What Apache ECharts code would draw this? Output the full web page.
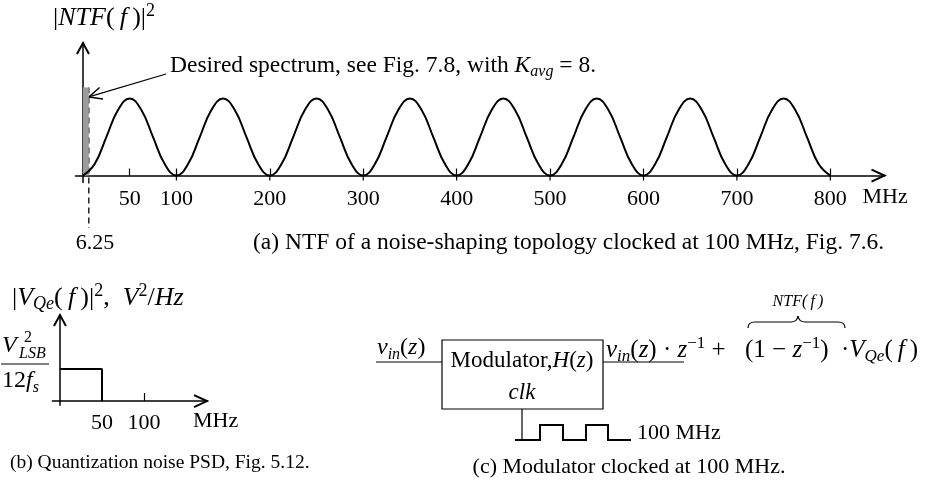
<!DOCTYPE html>
<html><head><meta charset="utf-8">
<script src="https://cdn.jsdelivr.net/npm/echarts@6/dist/echarts.min.js"></script>
<style>html,body{margin:0;padding:0;background:#fff}#c{width:940px;height:483px}</style>
</head><body><div id="c"></div>
<script>
// ---- data ----
const ntfFreqMHz = [0,12.5,25,37.5,50,62.5,75,87.5,100,112.5,125,137.5,150,162.5,175,187.5,200,
  212.5,225,237.5,250,262.5,275,287.5,300,312.5,325,337.5,350,362.5,375,387.5,400,
  412.5,425,437.5,450,462.5,475,487.5,500,512.5,525,537.5,550,562.5,575,587.5,600,
  612.5,625,637.5,650,662.5,675,687.5,700,712.5,725,737.5,750,762.5,775,787.5,800];
const ntfPower = [0,0.15,0.5,0.85,1,0.85,0.5,0.15,0,0.15,0.5,0.85,1,0.85,0.5,0.15,0,
  0.15,0.5,0.85,1,0.85,0.5,0.15,0,0.15,0.5,0.85,1,0.85,0.5,0.15,0,
  0.15,0.5,0.85,1,0.85,0.5,0.15,0,0.15,0.5,0.85,1,0.85,0.5,0.15,0,
  0.15,0.5,0.85,1,0.85,0.5,0.15,0,0.15,0.5,0.85,1,0.85,0.5,0.15,0];
const ntfTickValues = [50,100,200,300,400,500,600,700,800];
const ntfCrossTicks = [100,200,300,400,500,600,700,800];
const desiredBandMHz = 6.25;
const desiredBandHeight = 1.143;
const psdFreqMHz = [0, 50, 50];
const psdLevel = [1, 1, 0];
const psdTickValues = [50, 100];
const psdTickMarks = [100];

const F = '"Liberation Serif", "Times New Roman", serif';
const chart = echarts.init(document.getElementById('c'));
const black = '#000';
const zip = (a, b) => a.map((v, i) => [v, b[i]]);

chart.setOption({
  animation: false,
  backgroundColor: '#fff',
  grid: [
    {left: 75.5, width: 809, top: 43, height: 139.5},
    {left: 52.4, width: 154.6, top: 315, height: 90.2}
  ],
  xAxis: [
    {gridIndex: 0, type: 'value', min: -8, max: 858,
     axisLine: {show: true, onZero: true, lineStyle: {color: black, width: 1.5}},
     axisTick: {show: true, inside: true, length: 7, customValues: ntfTickValues, lineStyle: {color: black, width: 1.2}},
     axisLabel: {show: true, customValues: ntfTickValues, color: black, fontFamily: F, fontSize: 22, margin: 6},
     splitLine: {show: false}},
    {gridIndex: 1, type: 'value', min: -9, max: 175,
     axisLine: {show: true, onZero: true, lineStyle: {color: black, width: 1.5}},
     axisTick: {show: true, inside: true, length: 8, customValues: psdTickMarks, lineStyle: {color: black, width: 1.2}},
     axisLabel: {show: true, customValues: psdTickValues, color: black, fontFamily: F, fontSize: 22, margin: 7},
     splitLine: {show: false}}
  ],
  yAxis: [
    {gridIndex: 0, type: 'value', min: -0.09, max: 1.72,
     axisLine: {show: true, onZero: true, lineStyle: {color: black, width: 1.5}},
     axisTick: {show: false}, axisLabel: {show: false}, splitLine: {show: false}},
    {gridIndex: 1, type: 'value', min: -0.13, max: 2.69,
     axisLine: {show: true, onZero: true, lineStyle: {color: black, width: 1.5}},
     axisTick: {show: false}, axisLabel: {show: false}, splitLine: {show: false}}
  ],
  series: [
    {type: 'line', xAxisIndex: 0, yAxisIndex: 0, data: zip(ntfFreqMHz, ntfPower),
     smooth: 0.45, showSymbol: false, symbol: 'none', lineStyle: {color: black, width: 2},
     markArea: {silent: true, itemStyle: {color: '#9c9c9c'},
       data: [[{xAxis: 0, yAxis: 0}, {xAxis: desiredBandMHz, yAxis: desiredBandHeight}]]},
     z: 3},
    {type: 'line', xAxisIndex: 1, yAxisIndex: 1, data: zip(psdFreqMHz, psdLevel),
     showSymbol: false, symbol: 'none', lineStyle: {color: black, width: 2}}
  ]
});

// ---- annotations positioned through the chart's scales ----
const pA = v => chart.convertToPixel({xAxisIndex: 0, yAxisIndex: 0}, v);
const pB = v => chart.convertToPixel({xAxisIndex: 1, yAxisIndex: 1}, v);
const txt = (x, y, text, size, extra) => ({
  type: 'text', x, y, silent: true,
  style: Object.assign({text, fill: black, fontFamily: F, fontSize: size,
    verticalAlign: 'middle', align: 'left'}, extra || {})
});
const rich = (size) => {
  const s = Math.round(size * 0.68);
  return {
    i: {fontStyle: 'italic', fontSize: size, fontFamily: F, fill: black, lineHeight: size * 1.2},
    n: {fontSize: size, fontFamily: F, fill: black, lineHeight: size * 1.2},
    sup: {fontSize: s, fontFamily: F, fill: black, verticalAlign: 'top', lineHeight: s},
    sub: {fontSize: s, fontFamily: F, fontStyle: 'italic', fill: black, verticalAlign: 'bottom', lineHeight: s}
  };
};
const rtxt = (x, y, text, size, extra) => ({
  type: 'text', x, y, silent: true,
  style: Object.assign({text, rich: rich(size), fill: black, fontFamily: F, fontSize: size,
    verticalAlign: 'middle', align: 'left', lineHeight: size * 1.2}, extra || {})
});
const line = (x1, y1, x2, y2, w, dash) => ({type: 'line', silent: true,
  shape: {x1, y1, x2, y2}, style: {stroke: black, lineWidth: w || 1.5, lineDash: dash || null}});
const poly = (pts, w) => ({type: 'polyline', silent: true, shape: {points: pts},
  style: {stroke: black, lineWidth: w || 2, fill: null}});
const curve = (x1, y1, cx, cy, x2, y2) => ({type: 'bezierCurve', silent: true,
  shape: {x1, y1, x2, y2, cpx1: cx, cpy1: cy}, style: {stroke: black, lineWidth: 1.2, fill: null}});
const upArrow = (x, y) => poly([[x - 6, y + 11], [x, y], [x + 6, y + 11]], 2);
const rightArrow = (x, y) => poly([[x - 13, y - 6], [x, y], [x - 13, y + 6]], 2);

const aTop = pA([0, 1.72]);
const aEnd = pA([858, 0]);
const bandTop = pA([desiredBandMHz, desiredBandHeight]);
const tip = pA([desiredBandMHz, 1.02]);
const bTop = pB([0, 2.69]);
const bEnd = pB([175, 0]);

const s = [166, 74];
const dx = tip[0] - s[0], dy = tip[1] - s[1], L = Math.hypot(dx, dy);
const ux = dx / L, uy = dy / L;
const head = [[tip[0] - ux * 13 - uy * 6, tip[1] - uy * 13 + ux * 6], tip,
              [tip[0] - ux * 13 + uy * 6, tip[1] - uy * 13 - ux * 6]];

const g = [
  upArrow(aTop[0], aTop[1]),
  rightArrow(aEnd[0], aEnd[1]),
  line(bandTop[0], bandTop[1], bandTop[0], 228, 1.3, [6, 4]),
  line(s[0], s[1], tip[0], tip[1], 1.3),
  poly(head, 1.5)
];
// ticks that cross the axis (below part)
ntfCrossTicks.forEach(v => { const p = pA([v, 0]); g.push(line(p[0], p[1], p[0], p[1] + 5, 1.2)); });

g.push(
  rtxt(53, 18, '|{i|NTF}(\u2009{i|f}\u2009)|{sup|2}', 26),
  rtxt(170, 66, 'Desired spectrum, see Fig. 7.8, with {i|K}{sub|avg} = 8.', 23.5),
  txt(aEnd[0] - 22, 197, 'MHz', 22),
  txt(95, 243, '6.25', 22, {align: 'center'}),
  txt(253, 243, '(a) NTF of a noise-shaping topology clocked at 100 MHz, Fig. 7.6.', 23.5),
  // part b
  upArrow(bTop[0], bTop[1]),
  rightArrow(bEnd[0], bEnd[1]),
  rtxt(12, 298, '|{i|V}{sub|Qe}(\u2009{i|f}\u2009)|{sup|2},  {i|V}{sup|2}/{i|Hz}', 26),
  txt(2, 346, 'V', 24, {fontStyle: 'italic'}),
  txt(24, 338, '2', 16),
  txt(19, 354, 'LSB', 16, {fontStyle: 'italic'}),
  line(1, 364, 49, 364, 1.2),
  rtxt(2, 381, '12{i|f}{sub|s}', 24),
  txt(193, 421, 'MHz', 22),
  txt(10, 463, '(b) Quantization noise PSD, Fig. 5.12.', 19.5),
  // part c
  rtxt(377, 348, '{i|v}{sub|in}({i|z})', 24),
  line(376, 362, 442, 362, 1.2),
  {type: 'rect', silent: true, shape: {x: 442, y: 340, width: 161, height: 69}, style: {fill: null, stroke: black, lineWidth: 1.2}},
  rtxt(522, 361, 'Modulator,{i|H}({i|z})', 23, {align: 'center'}),
  txt(522, 393, 'clk', 23, {fontStyle: 'italic', align: 'center'}),
  line(603, 362, 684, 362, 1.2),
  rtxt(606, 350, '{i|v}{sub|in}({i|z}) \u00b7 {i|z}{sup|\u22121} +', 25),
  rtxt(745, 350, '(1 \u2212 {i|z}{sup|\u22121})', 25),
  rtxt(841, 350, '\u00b7{i|V}{sub|Qe}(\u2009{i|f}\u2009)', 25),
  txt(798, 302, 'NTF(\u2009f\u2009)', 16, {fontStyle: 'italic', align: 'center'}),
  curve(748, 328, 748, 322, 755, 322),
  line(755, 322, 791, 322, 1.2),
  curve(791, 322, 797, 322, 798, 316),
  curve(798, 316, 799, 322, 805, 322),
  line(805, 322, 838, 322, 1.2),
  curve(838, 322, 845, 322, 845, 328),
  line(522, 409, 522, 440, 1.2),
  poly([[515, 440], [540, 440], [540, 425], [563, 425], [563, 440], [586, 440], [586, 425], [608, 425], [608, 440], [631, 440]], 2),
  txt(637, 433, '100 MHz', 22),
  txt(629, 467, '(c) Modulator clocked at 100 MHz.', 22, {align: 'center'})
);
chart.setOption({graphic: g});
</script></body></html>
